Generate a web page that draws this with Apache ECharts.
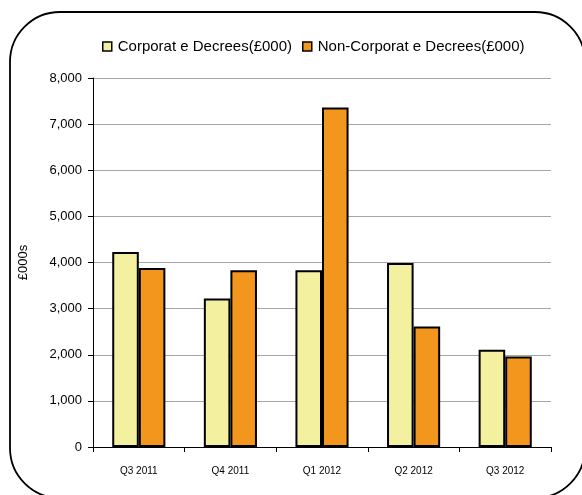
<!DOCTYPE html>
<html>
<head>
<meta charset="utf-8">
<script src="https://cdn.jsdelivr.net/npm/echarts@6/dist/echarts.min.js"></script>
<style>
  html, body { margin: 0; padding: 0; background: #fff; }
  #main { width: 582px; height: 495px; }
</style>
</head>
<body>
<div id="main"></div>
<script>
var categories = ['Q3 2011', 'Q4 2011', 'Q1 2012', 'Q2 2012', 'Q3 2012'];
var corporate = [4230, 3220, 3830, 3990, 2110];
var nonCorporate = [3880, 3830, 7360, 2610, 1960];
var seriesNames = ['Corporat e Decrees(£000)', 'Non-Corporat e Decrees(£000)'];

var font = 'Liberation Sans, Arial, sans-serif';

var options = {
    animation: false,
    textStyle: { fontFamily: font },
    // rounded frame, runs off the right and bottom edges like the original
    graphic: [{
        type: 'rect',
        shape: { x: 10, y: 12, width: 575, height: 486, r: 50 },
        style: { fill: 'none', stroke: '#000', lineWidth: 1.8 },
        z: -1
    }],
    legend: {
        data: seriesNames,
        top: 34,
        left: 97,
        itemWidth: 9,
        itemHeight: 9,
        itemGap: 10,
        icon: 'rect',
        itemStyle: { borderColor: '#000', borderWidth: 1.5 },
        textStyle: { fontSize: 15, color: '#000', fontFamily: font, padding: [0, 0, 0, 1] }
    },
    grid: { left: 93, right: 31, top: 78, bottom: 48 },
    xAxis: {
        type: 'category',
        data: categories,
        axisLine: { lineStyle: { color: '#000', width: 1 } },
        axisTick: { show: true, length: 5, lineStyle: { color: '#000' } },
        axisLabel: { fontSize: 10, color: '#000', margin: 19 }
    },
    yAxis: {
        type: 'value',
        min: 0,
        max: 8000,
        interval: 1000,
        name: '£000s',
        nameLocation: 'middle',
        nameGap: 63,
        nameTextStyle: { fontSize: 13, color: '#000' },
        axisLine: { show: true, lineStyle: { color: '#000', width: 1 } },
        axisTick: { show: true, length: 5, lineStyle: { color: '#000' } },
        axisLabel: {
            fontSize: 13, color: '#000', margin: 11,
            formatter: function (v) { return v.toLocaleString('en-US'); }
        },
        splitLine: { lineStyle: { color: '#a6a6a6', width: 1 } }
    },
    series: [{
        name: seriesNames[0],
        type: 'bar',
        data: corporate,
        barGap: '0%',
        barCategoryGap: '42%',
        itemStyle: { color: '#f3f1a0', borderColor: '#000', borderWidth: 2 }
    }, {
        name: seriesNames[1],
        type: 'bar',
        data: nonCorporate,
        itemStyle: { color: '#f3961e', borderColor: '#000', borderWidth: 2 }
    }]
};

var chart = echarts.init(document.getElementById('main'));
chart.setOption(options);
</script>
</body>
</html>
